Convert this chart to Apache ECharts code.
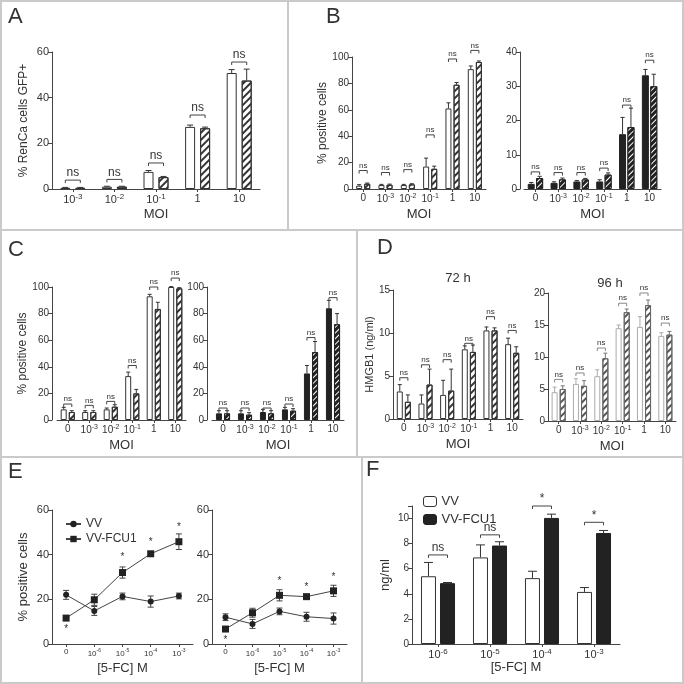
<!DOCTYPE html>
<html><head><meta charset="utf-8">
<script src="https://cdn.jsdelivr.net/npm/echarts@6/dist/echarts.min.js"></script>
<style>html,body{margin:0;padding:0;background:#fff}#c{width:684px;height:684px}</style>
</head><body><div id="c"></div>
<script>
// ---------------- data ----------------
const moi5 = ['10^-3','10^-2','10^-1','1','10'];
const moi6 = ['0','10^-3','10^-2','10^-1','1','10'];
const fc5 = ['0','10^-6','10^-5','10^-4','10^-3'];
const fc4 = ['10^-6','10^-5','10^-4','10^-3'];
// A
const aOpen = [0.5, 1.0, 7.5, 27.2, 50.8];
const aOpenErr = [0.2, 0.2, 0.6, 0.8, 1.5];
const aHatch = [0.5, 1.0, 5.2, 26.6, 47.5];
const aHatchErr = [0.2, 0.2, 0.3, 0.5, 5.0];
const aNs = [3.9, 4.2, 11.4, 32.4, 55.6];
// B left
const bOpen = [2.5, 3.0, 3.0, 17, 61, 90.8];
const bOpenErr = [0.8, 0.5, 0.5, 6.4, 4.3, 2.4];
const bHatch = [4.0, 3.2, 3.5, 15.3, 79, 96.2];
const bHatchErr = [0.5, 0.5, 0.5, 2.0, 1.7, 0.8];
const bNs = [14, 12.5, 14.7, 41, 98.5, 105];
// B right
const b2Black = [1.5, 1.8, 2.2, 2.2, 16, 33.2];
const b2BlackErr = [0.4, 0.3, 0.3, 0.5, 4.9, 1.7];
const b2Hatch = [3.2, 2.8, 2.8, 4.2, 18.1, 30];
const b2HatchErr = [0.5, 0.4, 0.3, 0.5, 5.5, 3.5];
const b2Ns = [5.0, 4.8, 4.8, 6.1, 24.5, 37.6];
// C left
const cOpen = [8, 6, 8, 33, 93, 100];
const cOpenErr = [1.5, 1, 1, 3, 1.5, 0.3];
const cHatch = [6, 6, 10, 20, 83.5, 99];
const cHatchErr = [1, 1, 1.5, 3, 5, 0.5];
const cNs = [12, 11, 14, 41, 100, 106.7];
// C right
const c2Black = [5, 5, 6, 8, 35, 84];
const c2BlackErr = [2, 2, 2, 1.5, 6, 6];
const c2Hatch = [5, 4, 5, 7, 51, 72];
const c2HatchErr = [2, 1.5, 2, 1.5, 8, 8];
const c2Ns = [9, 9, 9, 12, 62, 92];
// D 72 h
const dOpen = [3.2, 1.8, 2.8, 8.1, 10.3, 8.7];
const dOpenErr = [0.8, 1.0, 1.7, 0.4, 0.4, 0.7];
const dHatch = [2.0, 4.0, 3.3, 7.8, 10.3, 7.7];
const dHatchErr = [0.8, 1.8, 2.5, 0.8, 0.3, 0.7];
const dNs = [4.8, 6.3, 6.9, 8.8, 11.9, 10.3];
// D 96 h
const d2Open = [4.5, 5.8, 7.0, 14.5, 14.7, 13.3];
const d2OpenErr = [0.8, 0.8, 1.0, 0.5, 1.6, 0.5];
const d2Hatch = [5.0, 5.5, 9.8, 17.0, 18.1, 13.5];
const d2HatchErr = [0.5, 0.8, 0.8, 0.5, 0.8, 0.5];
const d2Ns = [6.5, 7.5, 11.4, 18.4, 20, 15.3];
// E left
const eVV = [22, 14.8, 21.3, 19, 21.5];
const eVVErr = [2, 2, 1.5, 2.5, 1.3];
const eFCU = [11.6, 19.8, 32, 40.4, 45.8];
const eFCUErr = [0.6, 2.5, 2.5, 1, 3.5];
const eStars = [[0, 6.5], [2, 39], [3, 45.5], [4, 52.5]];
// E right
const e2VV = [12, 9, 14.6, 12.2, 11.4];
const e2VVErr = [1.5, 2, 1.5, 2, 2.5];
const e2FCU = [6.7, 14, 21.8, 21.2, 23.8];
const e2FCUErr = [0.5, 2, 2.5, 0.8, 2.5];
const e2Stars = [[0, 1.5], [2, 28], [3, 25.5], [4, 30]];
// F
const fVV = [5.4, 6.9, 5.25, 4.15];
const fVVErr = [1.1, 1.0, 0.55, 0.35];
const fFCU = [4.85, 7.85, 10.05, 8.85];
const fFCUErr = [0.05, 0.3, 0.3, 0.2];
const fSig = [7.1, 8.7, 11, 9.7];
const fSigLabel = ['ns', 'ns', '*', '*'];

// ---------------- helpers ----------------
const TXT = '#333';
const AX = '#444';
const FONT = '"Liberation Sans", Arial, sans-serif';
const grids = [], xAxes = [], yAxes = [], series = [], graphics = [];

function supFmt(v) { return v.indexOf('10^') === 0 ? '10{s|' + v.slice(3) + '}' : v; }

function addAxes(g, cats, yMax, yInt, o) {
  const gi = grids.length;
  grids.push({ left: g[0], top: g[1], width: g[2], height: g[3] });
  xAxes.push({
    gridIndex: gi, type: 'category', data: cats, boundaryGap: true,
    axisLine: { lineStyle: { color: AX, width: 1 } },
    axisTick: { show: true, alignWithLabel: true, length: 3, lineStyle: { color: AX } },
    axisLabel: {
      color: TXT, fontFamily: FONT, fontSize: o.xfs || 10, margin: 4, interval: 0, formatter: supFmt,
      rich: { s: { fontSize: (o.xfs || 10) - 3, fontFamily: FONT, color: TXT, padding: [0, 0, 6, 0] } }
    },
    name: o.xname || '', nameLocation: 'middle', nameGap: o.xgap || 19,
    nameTextStyle: { color: TXT, fontFamily: FONT, fontSize: o.xnfs || 13 }
  });
  yAxes.push({
    gridIndex: gi, type: 'value', min: 0, max: yMax, interval: yInt, offset: o.yoff || 0,
    axisLine: { show: true, lineStyle: { color: AX, width: 1 } },
    axisTick: { show: true, length: 4, lineStyle: { color: AX } },
    splitLine: { show: false },
    axisLabel: {
      color: TXT, fontFamily: FONT, fontSize: o.yfs || 10, margin: 3,
      formatter: v => (o.hideAbove != null && v > o.hideAbove) ? '' : String(v)
    },
    name: o.yname || '', nameLocation: 'middle', nameGap: o.ygap || 22, nameRotate: 90,
    nameTextStyle: { color: TXT, fontFamily: FONT, fontSize: o.ynfs || 12 }
  });
  return gi;
}

function hatch(col, a, b) {
  return { symbol: 'rect', symbolSize: 1, dashArrayX: [1, 0], dashArrayY: [a, b], rotation: -Math.PI / 4, color: col };
}
const STY = {
  open: { color: '#fff', borderColor: '#333', borderWidth: 1 },
  black: { color: '#222', borderColor: '#222', borderWidth: 1 },
  hatch: { color: '#fff', borderColor: '#333', borderWidth: 1, decal: hatch('#333', 1.4, 2.4) },
  hatchBlack: { color: '#222', borderColor: '#222', borderWidth: 1, decal: hatch('#fff', 1, 2.6) },
  openLight: { color: '#fff', borderColor: '#aaa', borderWidth: 1 },
  hatchLight: { color: '#fff', borderColor: '#666', borderWidth: 1, decal: hatch('#555', 1.3, 2.5) }
};

function errRender(off, capHalf, color, both) {
  return function (params, api) {
    const i = api.value(0), v = api.value(1), e = api.value(2);
    const p = api.coord([i, v]);
    const t = api.coord([i, v + e]);
    const x = p[0] + off;
    const st = { stroke: color, lineWidth: 1 };
    const ch = [
      { type: 'line', shape: { x1: x, y1: p[1], x2: x, y2: t[1] }, style: st },
      { type: 'line', shape: { x1: x - capHalf, y1: t[1], x2: x + capHalf, y2: t[1] }, style: st }
    ];
    if (both) {
      const b = api.coord([i, v - e]);
      ch.push({ type: 'line', shape: { x1: x, y1: p[1], x2: x, y2: b[1] }, style: st });
      ch.push({ type: 'line', shape: { x1: x - capHalf, y1: b[1], x2: x + capHalf, y2: b[1] }, style: st });
    }
    return { type: 'group', children: ch };
  };
}

function bracketRender(half, color, fs, labels) {
  return function (params, api) {
    const i = api.value(0), lv = api.value(1);
    const p = api.coord([i, lv]);
    const x0 = p[0] - half, x1 = p[0] + half, y = p[1];
    return {
      type: 'group', children: [
        { type: 'polyline', shape: { points: [[x0, y + 3], [x0, y], [x1, y], [x1, y + 3]] }, style: { stroke: color, fill: null, lineWidth: 1 } },
        { type: 'text', style: { text: labels ? labels[params.dataIndex] : 'ns', x: p[0], y: y - 1, align: 'center', verticalAlign: 'bottom', fontSize: fs, fill: TXT, fontFamily: FONT } }
      ]
    };
  };
}

function barPair(gi, left, right, w, gapFrac, ns, nsFs, nsColor, errColors) {
  const off = w * (1 + gapFrac) / 2;
  [left, right].forEach((s, k) => {
    series.push({
      type: 'bar', xAxisIndex: gi, yAxisIndex: gi, data: s.vals, barWidth: w, barGap: (gapFrac * 100) + '%',
      itemStyle: STY[s.kind], silent: true, z: 2, name: s.name || undefined
    });
  });
  [left, right].forEach((s, k) => {
    series.push({
      type: 'custom', xAxisIndex: gi, yAxisIndex: gi, z: 3, silent: true,
      renderItem: errRender(k === 0 ? -off : off, Math.max(2, w * 0.3), (errColors && errColors[k]) || '#333', false),
      data: s.vals.map((v, i) => [i, v, s.errs[i]])
    });
  });
  if (ns) {
    series.push({
      type: 'custom', xAxisIndex: gi, yAxisIndex: gi, z: 4, silent: true,
      renderItem: bracketRender(off, nsColor || '#444', nsFs, ns.labels),
      data: ns.levels.map((v, i) => [i, v])
    });
  }
}

// ---------------- panels ----------------
// A
let g = addAxes([52, 52, 208, 137], moi5, 60, 20, { yname: '% RenCa cells GFP+', ygap: 22, xname: 'MOI', yfs: 11, xfs: 11 });
barPair(g, { vals: aOpen, errs: aOpenErr, kind: 'open' }, { vals: aHatch, errs: aHatchErr, kind: 'hatch' }, 10, 0.5, { levels: aNs }, 12);

// B left
g = addAxes([352, 57, 134, 132], moi6, 100, 20, { yname: '% positive cells', ygap: 23, xname: 'MOI', xfs: 10 });
barPair(g, { vals: bOpen, errs: bOpenErr, kind: 'open' }, { vals: bHatch, errs: bHatchErr, kind: 'hatch' }, 6, 0.35, { levels: bNs }, 8);
// B right
g = addAxes([524, 52, 137, 137], moi6, 40, 10, { yoff: 4, xname: 'MOI', xfs: 10 });
barPair(g, { vals: b2Black, errs: b2BlackErr, kind: 'black' }, { vals: b2Hatch, errs: b2HatchErr, kind: 'hatchBlack' }, 7, 0.2, { levels: b2Ns }, 8);

// C left
g = addAxes([57, 287, 129, 133], moi6, 100, 20, { yoff: 5, yname: '% positive cells', ygap: 23, xname: 'MOI', xfs: 10 });
barPair(g, { vals: cOpen, errs: cOpenErr, kind: 'open' }, { vals: cHatch, errs: cHatchErr, kind: 'hatch' }, 6, 0.35, { levels: cNs }, 8);
// C right
g = addAxes([212, 287, 132, 133], moi6, 100, 20, { yoff: 5, xname: 'MOI', xfs: 10 });
barPair(g, { vals: c2Black, errs: c2BlackErr, kind: 'black' }, { vals: c2Hatch, errs: c2HatchErr, kind: 'hatchBlack' }, 6, 0.35, { levels: c2Ns }, 8);

// D 72 h
g = addAxes([393, 290, 130, 129], moi6, 15, 5, { yname: 'HMGB1 (ng/ml)', ygap: 16, ynfs: 11, xname: 'MOI', xfs: 10 });
barPair(g, { vals: dOpen, errs: dOpenErr, kind: 'open' }, { vals: dHatch, errs: dHatchErr, kind: 'hatch' }, 6, 0.35, { levels: dNs }, 8);
// D 96 h
g = addAxes([548, 293, 128, 128], moi6, 20, 5, { xname: 'MOI', xfs: 10 });
barPair(g, { vals: d2Open, errs: d2OpenErr, kind: 'openLight' }, { vals: d2Hatch, errs: d2HatchErr, kind: 'hatchLight' }, 6, 0.35, { levels: d2Ns }, 8, '#888', ['#aaa', '#777']);

// E left / right (lines)
function linePanel(gi, vv, vvErr, fcu, fcuErr, stars, names) {
  series.push({ type: 'line', name: names[0], xAxisIndex: gi, yAxisIndex: gi, data: vv, symbol: 'circle', symbolSize: 6,
    lineStyle: { color: '#444', width: 1 }, itemStyle: { color: '#222' }, z: 3, silent: true });
  series.push({ type: 'line', name: names[1], xAxisIndex: gi, yAxisIndex: gi, data: fcu, symbol: 'rect', symbolSize: 7,
    lineStyle: { color: '#444', width: 1 }, itemStyle: { color: '#222' }, z: 3, silent: true });
  series.push({ type: 'custom', xAxisIndex: gi, yAxisIndex: gi, z: 2, silent: true,
    renderItem: errRender(0, 3, '#444', true), data: vv.map((v, i) => [i, v, vvErr[i]]) });
  series.push({ type: 'custom', xAxisIndex: gi, yAxisIndex: gi, z: 2, silent: true,
    renderItem: errRender(0, 3, '#444', true), data: fcu.map((v, i) => [i, v, fcuErr[i]]) });
  series.push({ type: 'custom', xAxisIndex: gi, yAxisIndex: gi, z: 4, silent: true,
    renderItem: function (params, api) {
      const p = api.coord([api.value(0), api.value(1)]);
      return { type: 'text', style: { text: '*', x: p[0], y: p[1], align: 'center', verticalAlign: 'middle', fontSize: 10, fill: TXT, fontFamily: FONT } };
    }, data: stars });
}
g = addAxes([52, 510, 141, 134], fc5, 60, 20, { yname: '% positive cells', ygap: 22, ynfs: 13, yfs: 11, xname: '[5-FC] M', xfs: 8, xgap: 18 });
linePanel(g, eVV, eVVErr, eFCU, eFCUErr, eStars, ['VV', 'VV-FCU1']);
g = addAxes([212, 510, 135, 134], fc5, 60, 20, { yfs: 11, xname: '[5-FC] M', xfs: 8, xgap: 18 });
linePanel(g, e2VV, e2VVErr, e2FCU, e2FCUErr, e2Stars, ['VV r', 'VV-FCU1 r']);

// F
g = addAxes([412, 506, 208, 138], fc4, 11, 2, { yname: 'ng/ml', ygap: 20, ynfs: 13, hideAbove: 10, xname: '[5-FC] M', xfs: 11, xgap: 17 });
barPair(g, { vals: fVV, errs: fVVErr, kind: 'open', name: 'F VV' }, { vals: fFCU, errs: fFCUErr, kind: 'black', name: 'F VV-FCU1' }, 15, 0.27,
  { levels: fSig, labels: fSigLabel }, 12);

// ---------------- frame, letters, titles ----------------
const LC = '#cacaca';
function ln(x1, y1, x2, y2) { graphics.push({ type: 'line', shape: { x1, y1, x2, y2 }, style: { stroke: LC, lineWidth: 2 }, silent: true }); }
graphics.push({ type: 'rect', shape: { x: 1, y: 1, width: 682, height: 682 }, style: { stroke: LC, fill: null, lineWidth: 2 }, silent: true });
ln(0, 230, 684, 230); ln(0, 457, 684, 457);
ln(288, 0, 288, 230); ln(357, 230, 357, 457); ln(362, 457, 362, 684);
function txt(t, x, y, fs) { graphics.push({ type: 'text', left: x, top: y, style: { text: t, fontSize: fs, fill: TXT, fontFamily: FONT }, silent: true }); }
txt('A', 8, 6, 22); txt('B', 326, 6, 22); txt('C', 8, 239, 22); txt('D', 377, 237, 22); txt('E', 8, 461, 22); txt('F', 366, 459, 22);
graphics.push({ type: 'text', x: 458, y: 278, style: { text: '72 h', fontSize: 13, fill: TXT, fontFamily: FONT, align: 'center', verticalAlign: 'middle' }, silent: true });
graphics.push({ type: 'text', x: 610, y: 283, style: { text: '96 h', fontSize: 13, fill: TXT, fontFamily: FONT, align: 'center', verticalAlign: 'middle' }, silent: true });

const chart = echarts.init(document.getElementById('c'), null, { renderer: 'canvas', width: 684, height: 684 });
chart.setOption({
  animation: false,
  backgroundColor: '#fff',
  textStyle: { fontFamily: FONT },
  grid: grids, xAxis: xAxes, yAxis: yAxes, series: series,
  legend: [
    { left: 60, top: 513, orient: 'vertical', itemGap: 3, itemWidth: 15, itemHeight: 8, selectedMode: false,
      textStyle: { fontSize: 12, color: TXT, fontFamily: FONT }, data: ['VV', 'VV-FCU1'] },
    { left: 418, top: 490, orient: 'vertical', itemGap: 5, itemWidth: 13, itemHeight: 10, selectedMode: false,
      textStyle: { fontSize: 13, color: TXT, fontFamily: FONT }, formatter: n => n.slice(2),
      data: [{ name: 'F VV', itemStyle: { color: '#fff', borderColor: '#333', borderWidth: 1 } },
             { name: 'F VV-FCU1', itemStyle: { color: '#222', borderColor: '#222', borderWidth: 1 } }] }
  ],
  graphic: graphics
});
</script></body></html>
